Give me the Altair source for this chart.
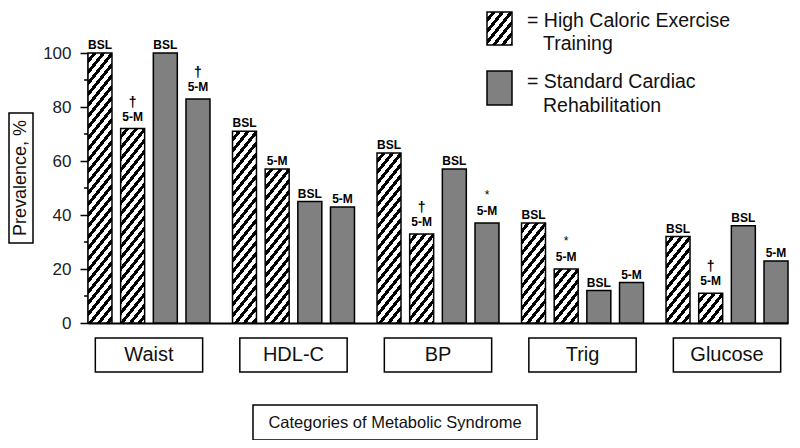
import altair as alt
import pandas as pd

# ---------------- data ----------------
groups = ["Waist", "HDL-C", "BP", "Trig", "Glucose"]
hce_bsl = [100, 71, 63, 37, 32]
hce_5m = [72, 57, 33, 20, 11]
scr_bsl = [100, 45, 57, 12, 36]
scr_5m = [83, 43, 37, 15, 23]
hce_sig = ["†", "", "†", "*", "†"]
scr_sig = ["†", "", "*", "", ""]
slots = ["HCE BSL", "HCE 5-M", "SCR BSL", "SCR 5-M"]
time_labels = ["BSL", "5-M"]
legend_hce = ["= High Caloric Exercise", "Training"]
legend_scr = ["= Standard Cardiac", "Rehabilitation"]
y_ticks = [0, 20, 40, 60, 80, 100]
y_minor = [10, 30, 50, 70, 90]
y_title = "Prevalence, %"
x_title = "Categories of Metabolic Syndrome"

rows = []
for i, g in enumerate(groups):
    for slot, prog, t, v, s in [
        (slots[0], "HCE", time_labels[0], hce_bsl[i], ""),
        (slots[1], "HCE", time_labels[1], hce_5m[i], hce_sig[i]),
        (slots[2], "SCR", time_labels[0], scr_bsl[i], ""),
        (slots[3], "SCR", time_labels[1], scr_5m[i], scr_sig[i]),
    ]:
        rows.append(dict(group=g, slot=slot, program=prog, time=t, value=v, sig=s))
df = pd.DataFrame(rows)

# ---------------- layout / style ----------------
W, H = 700, 270
PI_G, PI_S = 0.156, 0.266
FONT = "Liberation Sans"
GRAY = "#808080"

group_bw = W * (1 - PI_G) / (len(groups) - PI_G)
slot_step = group_bw / (len(slots) - PI_S)
bar_w = slot_step * (1 - PI_S)


def hatch(w, h, period=11.0, frac=0.45, m=1.25):
    """Diagonal '/' stripes as a hard-stop linear gradient in bbox units."""
    C = m * w + h
    k = C / (m * m * w * w + h * h)
    stops = []
    c = 0.0
    while c < C:
        a = c / C
        b = min((c + period * (1 - frac)) / C, 1.0)
        e = min((c + period) / C, 1.0)
        stops += [
            alt.GradientStop(offset=a, color="white"),
            alt.GradientStop(offset=b, color="white"),
            alt.GradientStop(offset=b, color="black"),
            alt.GradientStop(offset=e, color="black"),
        ]
        c += period
    return alt.LinearGradient(
        gradient="linear", x1=0, y1=0, x2=k * m * w, y2=k * h, stops=stops
    )


x_enc = alt.X(
    "group:N",
    sort=groups,
    scale=alt.Scale(domain=groups, paddingInner=PI_G, paddingOuter=0),
    axis=alt.Axis(labels=False, ticks=False, title=None, domainWidth=2,
                  domainColor="black"),
)
xo_enc = alt.XOffset(
    "slot:N", sort=slots,
    scale=alt.Scale(domain=slots, paddingInner=PI_S, paddingOuter=0),
)
y_enc = alt.Y(
    "value:Q",
    scale=alt.Scale(domain=[0, 100], nice=False, zero=True),
    axis=alt.Axis(values=y_ticks, tickSize=8, tickWidth=1.5, tickColor="black",
                  domainWidth=2, domainColor="black", labelFontSize=17,
                  labelColor="#222", labelPadding=9, title=None, grid=False,
                  labelFont=FONT),
)

base = alt.Chart(df).encode(x=x_enc, xOffset=xo_enc, y=y_enc)

layers = []
# gray bars
layers.append(
    base.transform_filter(alt.datum.program == "SCR")
    .mark_bar(fill=GRAY, stroke="black", strokeWidth=1.5)
)
# hatched bars, one gradient per bar so stripes keep constant density
for i, g in enumerate(groups):
    for slot, v in [(slots[0], hce_bsl[i]), (slots[1], hce_5m[i])]:
        layers.append(
            base.transform_filter((alt.datum.group == g) & (alt.datum.slot == slot))
            .mark_bar(fill=hatch(bar_w, v * H / 100), stroke="black", strokeWidth=1.5)
        )

# minor y ticks
layers.append(
    alt.Chart(pd.DataFrame({"value": y_minor}))
    .mark_rule(color="black", strokeWidth=1.5)
    .encode(y=y_enc, x=alt.value(-4), x2=alt.value(0))
)

# BSL / 5-M labels
layers.append(
    base.transform_filter(alt.datum.sig == "")
    .mark_text(dy=-4, baseline="alphabetic", fontWeight="bold", fontSize=12)
    .encode(text="time:N")
)
layers.append(
    base.transform_filter(alt.datum.sig != "")
    .mark_text(dy=-8, baseline="alphabetic", fontWeight="bold", fontSize=12)
    .encode(text="time:N")
)
layers.append(
    base.transform_filter(alt.datum.sig == "†")
    .mark_text(dy=-22, baseline="alphabetic", fontWeight="bold", fontSize=14)
    .encode(text="sig:N")
)
layers.append(
    base.transform_filter(alt.datum.sig == "*")
    .mark_text(dy=-24, baseline="alphabetic", fontSize=12)
    .encode(text="sig:N")
)

# category boxes + labels
cat_df = pd.DataFrame({"group": groups})
layers.append(
    alt.Chart(cat_df)
    .mark_bar(width={"band": 0.88}, fill="white", stroke="black", strokeWidth=1.5)
    .encode(x=x_enc, y=alt.value(285), y2=alt.value(319))
)
layers.append(
    alt.Chart(cat_df)
    .mark_text(fontSize=20, baseline="middle", color="#111")
    .encode(x=x_enc, y=alt.value(302), text="group:N")
)

# y title box
yt_df = pd.DataFrame({"t": [y_title]})
layers.append(
    alt.Chart(yt_df).mark_rect(fill="white", stroke="black", strokeWidth=1.5)
    .encode(x=alt.value(-79), x2=alt.value(-55), y=alt.value(60), y2=alt.value(190))
)
layers.append(
    alt.Chart(yt_df).mark_text(angle=270, fontSize=18, baseline="middle",
                               align="center", color="#111")
    .encode(x=alt.value(-67), y=alt.value(125), text="t:N")
)

# x title box
xt_df = pd.DataFrame({"t": [x_title]})
layers.append(
    alt.Chart(xt_df).mark_rect(fill="white", stroke="black", strokeWidth=1.5)
    .encode(x=alt.value(165), x2=alt.value(449), y=alt.value(352), y2=alt.value(387))
)
layers.append(
    alt.Chart(xt_df).mark_text(fontSize=16.5, baseline="middle", align="center",
                               color="#111")
    .encode(x=alt.value(307), y=alt.value(370), text="t:N")
)

# legend
leg_df = pd.DataFrame({"a": [0]})
layers.append(
    alt.Chart(leg_df).mark_rect(fill=hatch(25, 33), stroke="black", strokeWidth=1.5)
    .encode(x=alt.value(399), x2=alt.value(424), y=alt.value(-41), y2=alt.value(-8))
)
layers.append(
    alt.Chart(leg_df).mark_rect(fill=GRAY, stroke="black", strokeWidth=1.5)
    .encode(x=alt.value(399), x2=alt.value(424), y=alt.value(18), y2=alt.value(52))
)
for txt, xx, yy in [
    (legend_hce[0], 439, -26), (legend_hce[1], 455, -3),
    (legend_scr[0], 439, 35), (legend_scr[1], 455, 59),
]:
    layers.append(
        alt.Chart(pd.DataFrame({"t": [txt]}))
        .mark_text(fontSize=19.5, align="left", baseline="alphabetic", color="#111")
        .encode(x=alt.value(xx), y=alt.value(yy), text="t:N")
    )

chart = (
    alt.layer(*layers)
    .properties(
        width=W, height=H,
        autosize=alt.AutoSizeParams(type="none"),
        padding={"left": 80, "top": 45, "right": 4, "bottom": 117},
    )
    .configure(font=FONT)
    .configure_view(stroke=None)
)

chart.save("out.html", embed_options={"renderer": "svg", "actions": False})
